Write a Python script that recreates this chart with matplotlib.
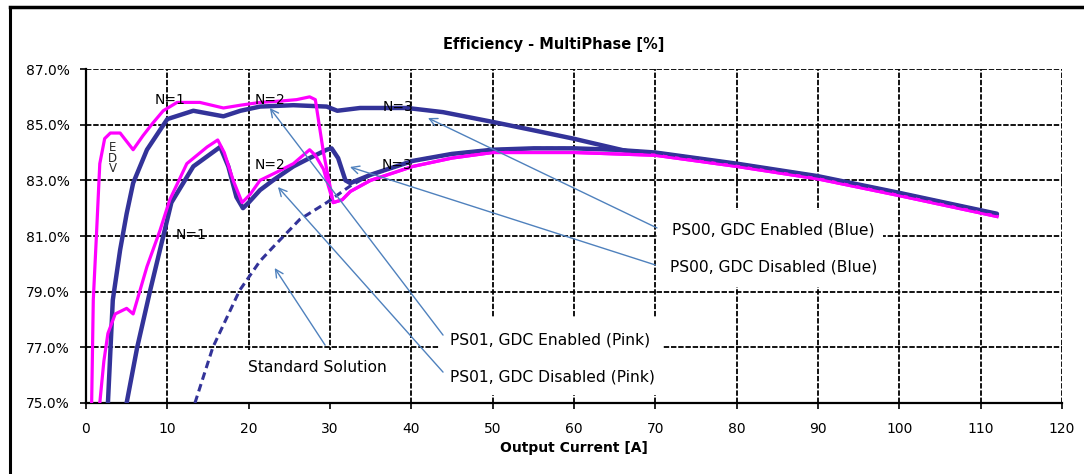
import matplotlib
matplotlib.use("Agg")
import matplotlib.pyplot as plt
from matplotlib.lines import Line2D
from matplotlib.patches import Rectangle

# ---- data ----
x_ps01_en = [0.7, 0.9, 1.3, 1.7, 2.3, 3.0, 4.2, 5.0, 5.8, 7.0, 8.2, 9.5, 11.2, 14.0, 16.9, 19.0,
             21.4, 24.0, 25.9, 27.5, 28.2, 29.2, 30.4, 31.5, 32.5, 35, 40.2, 45, 50, 55, 60, 65,
             70, 75, 80, 90, 100, 112]
y_ps01_en = [75.0, 78.7, 81.1, 83.6, 84.5, 84.7, 84.7, 84.4, 84.1, 84.6, 85.05, 85.5, 85.8, 85.8,
             85.6, 85.7, 85.8, 85.85, 85.9, 86.0, 85.9, 84.0, 82.2, 82.3, 82.6, 83.0, 83.5, 83.8,
             84.0, 84.0, 84.0, 83.95, 83.9, 83.7, 83.5, 83.05, 82.45, 81.7]

x_ps01_dis = [1.7, 2.2, 2.7, 3.6, 5.0, 5.8, 6.5, 7.5, 9.1, 10.3, 12.4, 14.9, 16.2, 17.0, 18.1,
              19.2, 20.2, 21.4, 23.5, 25.5, 27.5, 28.2, 29.2, 30.4, 31.5, 32.5, 35, 40.2, 45, 50,
              55, 60, 65, 70, 75, 80, 90, 100, 112]
y_ps01_dis = [75.0, 76.5, 77.5, 78.2, 78.4, 78.2, 78.9, 79.9, 81.2, 82.3, 83.6, 84.2, 84.45,
              84.0, 83.0, 82.2, 82.5, 83.0, 83.3, 83.6, 84.1, 83.9, 83.4, 82.2, 82.3, 82.6, 83.0,
              83.5, 83.8, 84.0, 84.0, 84.0, 83.95, 83.9, 83.7, 83.5, 83.05, 82.45, 81.7]

x_ps00_en = [2.7, 3.3, 4.2, 5.0, 5.8, 7.5, 10.0, 13.2, 16.9, 19.0, 21.4, 25.5, 29.6, 30.9, 33.7,
             39.5, 43.9, 50, 55, 59.9, 66.5, 70, 75, 80, 90, 100, 112]
y_ps00_en = [75.0, 78.7, 80.5, 81.8, 82.9, 84.1, 85.2, 85.5, 85.3, 85.5, 85.65, 85.7, 85.65, 85.5,
             85.6, 85.6, 85.45, 85.1, 84.8, 84.5, 84.05, 83.95, 83.75, 83.55, 83.1, 82.5, 81.75]

x_ps00_dis = [5.0, 6.3, 7.9, 10.5, 13.2, 16.5, 17.5, 18.5, 19.3, 20.0, 21.4, 23.0, 25.5, 27.5,
              29.6, 30.2, 31.0, 31.9, 32.5, 35, 40.2, 45, 50, 55, 60, 65, 70, 75, 80, 90, 100, 112]
y_ps00_dis = [75.0, 77.0, 79.05, 82.2, 83.5, 84.2, 83.5, 82.4, 82.0, 82.2, 82.65, 83.0, 83.5,
              83.8, 84.1, 84.15, 83.8, 83.0, 82.9, 83.2, 83.7, 83.95, 84.1, 84.15, 84.15, 84.1,
              84.0, 83.8, 83.6, 83.15, 82.55, 81.8]

x_std = [13.4, 15.6, 18.9, 21.4, 23.0, 26.3, 29.6, 32.5, 35, 40.2, 45, 50, 55, 60, 65, 70, 75,
         80, 90, 100, 112]
y_std = [75.0, 77.0, 79.05, 80.1, 80.6, 81.6, 82.2, 82.8, 83.2, 83.7, 83.95, 84.1, 84.15, 84.15,
         84.1, 84.0, 83.8, 83.6, 83.15, 82.55, 81.8]

x_ticks = list(range(0, 121, 10))
y_ticks = [75, 77, 79, 81, 83, 85, 87]
y_tick_labels = ["%.1f%%" % v for v in y_ticks]

BLUE = "#333399"
PINK = "#ff00ff"
ARROW = "#4f81bd"

fig = plt.figure(figsize=(10.84, 4.74), dpi=100)
ax = fig.add_axes([0.0793, 0.1498, 0.9004, 0.7046])

# curves
ax.plot(x_ps00_en, y_ps00_en, color=BLUE, lw=3.2, zorder=3, solid_capstyle="round")
ax.plot(x_ps00_dis, y_ps00_dis, color=BLUE, lw=3.2, zorder=3, solid_capstyle="round")
ax.plot(x_ps01_en, y_ps01_en, color=PINK, lw=2.3, zorder=4)
ax.plot(x_ps01_dis, y_ps01_dis, color=PINK, lw=2.3, zorder=4)
ax.plot(x_std, y_std, color=BLUE, lw=2.2, ls=(0, (2.5, 1.5)), zorder=5)

ax.set_xlim(0, 120)
ax.set_ylim(75, 87)
ax.set_xticks(x_ticks)
ax.set_yticks(y_ticks)
ax.set_yticklabels(y_tick_labels)
ax.tick_params(direction="out", length=4.5, width=1.2, labelsize=10, pad=7)
ax.tick_params(axis="x", pad=9)
ax.grid(True, color="black", lw=1.3, ls=(0, (3, 1)))
ax.set_axisbelow(True)
for s in ["top", "right"]:
    ax.spines[s].set_visible(False)
for s in ["left", "bottom"]:
    ax.spines[s].set_linewidth(1.6)

ax.set_xlabel("Output Current [A]", fontsize=10, fontweight="bold", labelpad=4)
fig.text(0.511, 0.907, "Efficiency - MultiPhase [%]", fontsize=10.5, fontweight="bold",
         ha="center", va="center")

# white label panels that blank out the grid
for (x0, y0, w, h) in [(70.2, 79.17, 27.8, 2.76), (43.4, 75.29, 27.4, 2.76), (19.6, 75.0, 18.4, 1.9)]:
    ax.add_patch(Rectangle((x0, y0), w, h, facecolor="white", edgecolor="none", zorder=2))

# N= labels
for (tx, ty, s) in [(10.4, 85.9, "N=1"), (22.6, 85.9, "N=2"), (22.6, 83.55, "N=2"),
                    (12.9, 81.05, "N=1"), (38.4, 85.65, "N=3"), (38.2, 83.55, "N=3")]:
    ax.text(tx, ty, s, fontsize=10, ha="center", va="center", zorder=6)
ax.text(3.3, 83.8, "E\nD\nV", fontsize=8.5, ha="center", va="center", linespacing=0.75,
        color="#2a2a2a", zorder=6)

# callouts
callouts = [
    ("PS00, GDC Enabled (Blue)", (84.5, 81.21), (70.2, 81.29), (42.05, 85.24)),
    ("PS00, GDC Disabled (Blue)", (84.6, 79.89), (70.0, 79.96), (32.46, 83.48)),
    ("PS01, GDC Enabled (Pink)", (57.1, 77.26), (43.9, 77.44), (22.6, 85.6)),
    ("PS01, GDC Disabled (Pink)", (57.3, 75.93), (43.9, 76.11), (23.6, 82.76)),
    ("Standard Solution", (28.5, 76.29), (29.4, 77.08), (23.2, 79.85)),
]
for label, tpos, start, head in callouts:
    ax.text(tpos[0], tpos[1], label, fontsize=11.2, ha="center", va="center", zorder=6)
    ax.annotate("", xy=head, xytext=start,
                arrowprops=dict(arrowstyle="->", color=ARROW, lw=1.0,
                                mutation_scale=14, shrinkA=0, shrinkB=0),
                zorder=6)

# outer frame of the figure box
fig.add_artist(Line2D([10 / 1084, 10 / 1084], [0, 1 - 7 / 474], color="black", lw=2.2,
                      transform=fig.transFigure))
fig.add_artist(Line2D([10 / 1084, 1], [1 - 7 / 474, 1 - 7 / 474], color="black", lw=2.5,
                      transform=fig.transFigure))

fig.savefig("out.png", dpi=100)
